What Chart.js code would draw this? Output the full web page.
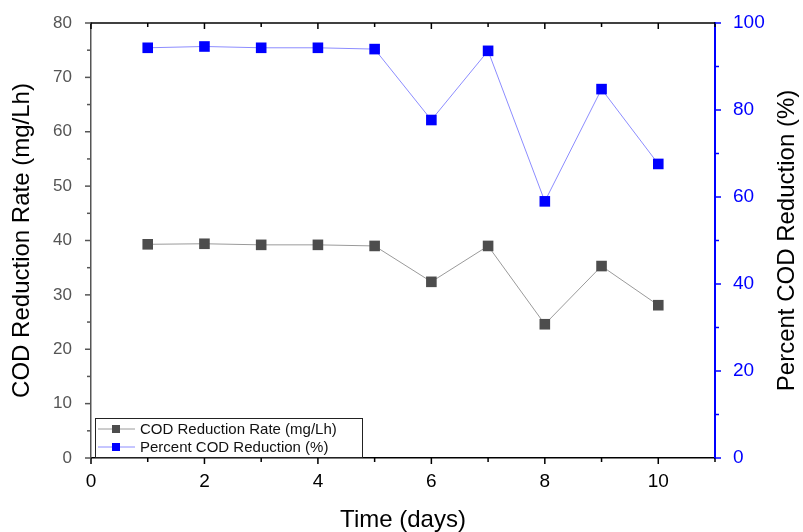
<!DOCTYPE html>
<html>
<head>
    <title>COD reduction</title>
    <script src="https://cdn.jsdelivr.net/npm/chart.js@4"></script>
    <style>
        body { margin: 0; background: #fff; }
        #wrap { width: 803px; height: 532px; position: relative; }
    </style>
</head>
<body>
    <div id="wrap">
        <canvas id="codChart" width="803" height="532"></canvas>
    </div>
    <script>
        // values
        const days = [1, 2, 3, 4, 5, 6, 7, 8, 9, 10]
        const codRate = [39.3, 39.4, 39.2, 39.2, 39.0, 32.4, 39.0, 24.6, 35.3, 28.1]
        const percentReduction = [94.3, 94.6, 94.3, 94.3, 94.0, 77.7, 93.6, 59.0, 84.8, 67.6]
        const seriesNames = ['COD Reduction Rate (mg/Lh)', 'Percent COD Reduction (%)']
        const rightTitle = 'Percent COD Reduction (%)'

        const FONT = "'Liberation Sans', Arial, sans-serif"

        // tick marks (major + minor), top frame line, right title read bottom-up
        const tickMarks = {
            id: 'tickMarks',
            afterDraw(chart) {
                const ctx = chart.ctx
                const ca = chart.chartArea
                const x = chart.scales.x, y = chart.scales.y, y2 = chart.scales.y2
                ctx.save()
                ctx.lineWidth = 1.5
                ctx.strokeStyle = '#000'
                ctx.beginPath()
                ctx.moveTo(ca.left, ca.top)
                ctx.lineTo(ca.right, ca.top)
                ctx.stroke()
                for (let v = 0; v <= 11; v++) {
                    const px = x.getPixelForValue(v)
                    const len = v % 2 === 0 ? 6 : 4
                    ctx.beginPath()
                    ctx.moveTo(px, ca.bottom)
                    ctx.lineTo(px, ca.bottom + len)
                    ctx.moveTo(px, ca.top)
                    ctx.lineTo(px, ca.top + len)
                    ctx.stroke()
                }
                ctx.strokeStyle = '#555'
                for (let v = 0; v <= 80; v += 5) {
                    const py = y.getPixelForValue(v)
                    const len = v % 10 === 0 ? 6 : 4
                    ctx.beginPath()
                    ctx.moveTo(ca.left, py)
                    ctx.lineTo(ca.left - len, py)
                    ctx.stroke()
                }
                ctx.strokeStyle = '#0000ff'
                for (let v = 0; v <= 100; v += 10) {
                    const py = y2.getPixelForValue(v)
                    const len = v % 20 === 0 ? 6 : 4
                    ctx.beginPath()
                    ctx.moveTo(ca.right, py)
                    ctx.lineTo(ca.right + len, py)
                    ctx.stroke()
                }
                ctx.translate(787, (ca.top + ca.bottom) / 2)
                ctx.rotate(-Math.PI / 2)
                ctx.font = '24px ' + FONT
                ctx.fillStyle = '#000'
                ctx.textAlign = 'center'
                ctx.textBaseline = 'middle'
                ctx.fillText(rightTitle, 0, 0)
                ctx.restore()
            }
        }

        // boxed legend in the lower left of the plot
        const boxLegend = {
            id: 'boxLegend',
            afterDraw(chart) {
                const ctx = chart.ctx
                const ca = chart.chartArea
                const bx = ca.left + 4, by = ca.bottom - 40
                ctx.save()
                ctx.fillStyle = '#fff'
                ctx.fillRect(bx, by, 267, 39)
                ctx.strokeStyle = '#222'
                ctx.lineWidth = 1
                ctx.strokeRect(bx + 0.5, by + 0.5, 267, 39)
                ctx.font = '15px ' + FONT
                ctx.textBaseline = 'middle'
                chart.data.datasets.forEach((ds, i) => {
                    const ry = by + 11 + i * 18
                    ctx.strokeStyle = ds.borderColor
                    ctx.lineWidth = 1
                    ctx.beginPath()
                    ctx.moveTo(bx + 3, ry)
                    ctx.lineTo(bx + 40, ry)
                    ctx.stroke()
                    ctx.fillStyle = ds.pointBackgroundColor
                    ctx.fillRect(bx + 17, ry - 4, 8, 8)
                    ctx.fillStyle = '#111'
                    ctx.fillText(ds.label, bx + 45, ry + 1)
                })
                ctx.restore()
            }
        }

        const noOverhang = s => { s.paddingTop = 0; s.paddingBottom = 0 }

        const chart = new Chart(document.getElementById('codChart'), {
            type: 'line',
            data: {
                datasets: [{
                    label: seriesNames[0],
                    data: days.map((d, i) => ({ x: d, y: codRate[i] })),
                    yAxisID: 'y',
                    borderColor: '#9a9a9a',
                    borderWidth: 1,
                    pointStyle: 'rect',
                    pointRadius: 7.5,
                    pointBackgroundColor: '#4d4d4d',
                    pointBorderColor: '#4d4d4d',
                    pointBorderWidth: 0,
                    tension: 0,
                }, {
                    label: seriesNames[1],
                    data: days.map((d, i) => ({ x: d, y: percentReduction[i] })),
                    yAxisID: 'y2',
                    borderColor: '#8c8cff',
                    borderWidth: 1,
                    pointStyle: 'rect',
                    pointRadius: 7.5,
                    pointBackgroundColor: '#0000ff',
                    pointBorderColor: '#0000ff',
                    pointBorderWidth: 0,
                    tension: 0,
                }]
            },
            options: {
                responsive: false,
                animation: false,
                layout: { padding: { top: 23, left: 0, right: 0, bottom: 0 } },
                plugins: {
                    legend: { display: false },
                    tooltip: { enabled: false }
                },
                scales: {
                    x: {
                        type: 'linear',
                        min: 0,
                        max: 11,
                        grid: { display: false, drawTicks: false },
                        border: { color: '#000', width: 1.5 },
                        ticks: {
                            stepSize: 1,
                            padding: 12,
                            color: '#000',
                            font: { family: FONT, size: 19 },
                            callback: v => (v % 2 === 0 && v <= 10 ? v : '')
                        },
                        title: {
                            display: true,
                            text: 'Time (days)',
                            color: '#000',
                            padding: 0,
                            font: { family: FONT, size: 24, lineHeight: 1 }
                        },
                        afterFit: s => { s.height = 74; s.paddingLeft = 0; s.paddingRight = 0 }
                    },
                    y: {
                        position: 'left',
                        min: 0,
                        max: 80,
                        grid: { display: false, drawTicks: false },
                        border: { color: '#555', width: 1.5 },
                        ticks: {
                            stepSize: 10,
                            padding: 19,
                            color: '#555',
                            font: { family: FONT, size: 17 }
                        },
                        title: {
                            display: true,
                            text: 'COD Reduction Rate (mg/Lh)',
                            color: '#000',
                            padding: 10,
                            font: { family: FONT, size: 24, lineHeight: 1 }
                        },
                        afterFit: s => { s.width = 91; noOverhang(s) }
                    },
                    y2: {
                        position: 'right',
                        min: 0,
                        max: 100,
                        grid: { display: false, drawTicks: false },
                        border: { color: '#0000ff', width: 2 },
                        ticks: {
                            stepSize: 20,
                            padding: 18,
                            color: '#0000ff',
                            font: { family: FONT, size: 19 }
                        },
                        title: { display: false },
                        afterFit: s => { s.width = 88; noOverhang(s) }
                    }
                }
            },
            plugins: [tickMarks, boxLegend]
        })
    </script>
</body>
</html>
